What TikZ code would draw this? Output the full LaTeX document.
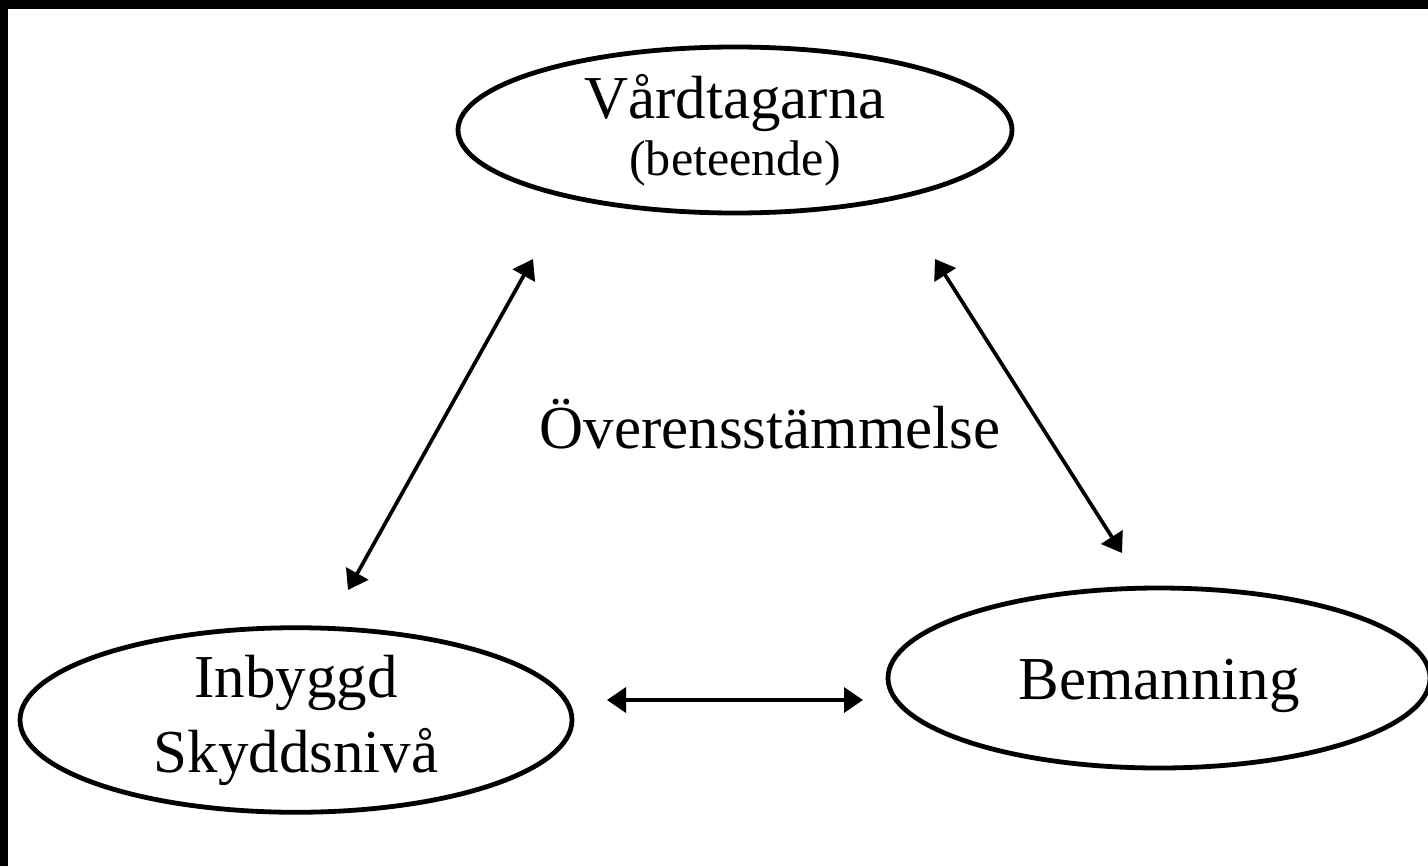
\documentclass[tikz,border=0pt]{standalone}
\usepackage{fontspec}
\setmainfont{Liberation Serif}
\usepackage{tikz}
\usetikzlibrary{shapes.geometric}
\usetikzlibrary{arrows.meta}

\begin{document}
\begin{tikzpicture}[x=1bp, y=-1bp,
        party/.style={draw, line width=4.8bp, ellipse, inner sep=0pt, align=center},
        twoway/.style={line width=3.7bp, {Triangle[length=19bp, width=25bp]}-{Triangle[length=19bp, width=25bp]}},
        big/.style={font=\fontsize{61.2}{75.3}\selectfont}
    ]
            \useasboundingbox (0, 0) rectangle (1428, 866);
            \fill[white] (0, 0) rectangle (1428, 866);

            % black edge on the left and the top
            \fill (0, 0) rectangle (8, 866);
            \fill (0, 0) rectangle (1428, 9);

            \node (vard) at (735, 130) [party, font=\fontsize{50.3}{57.2}\selectfont, minimum width=554bp, minimum height=166bp]
                {{\fontsize{61.2}{57.2}\selectfont Vårdtagarna}\\(beteende)};

            \node (skydd) at (296, 720) [party, big, minimum width=552bp, minimum height=184bp]
                {Inbyggd\\Skyddsnivå};

            \node (bem) at (1159, 678) [party, big, text height=56bp, minimum width=542bp, minimum height=180bp] {Bemanning};

            \node (over) at (770, 448) [big, anchor=base] {Överensstämmelse};

            \coordinate (a1) at (348, 590);
            \coordinate (b1) at (533, 259);
            \coordinate (a2) at (935, 259);
            \coordinate (b2) at (1122, 553);
            \coordinate (a3) at (607, 700);
            \coordinate (b3) at (863, 700);

            \draw[twoway] (a1) to (b1);
            \draw[twoway] (a2) to (b2);
            \draw[twoway] (a3) to (b3);
\end{tikzpicture}
\end{document}
